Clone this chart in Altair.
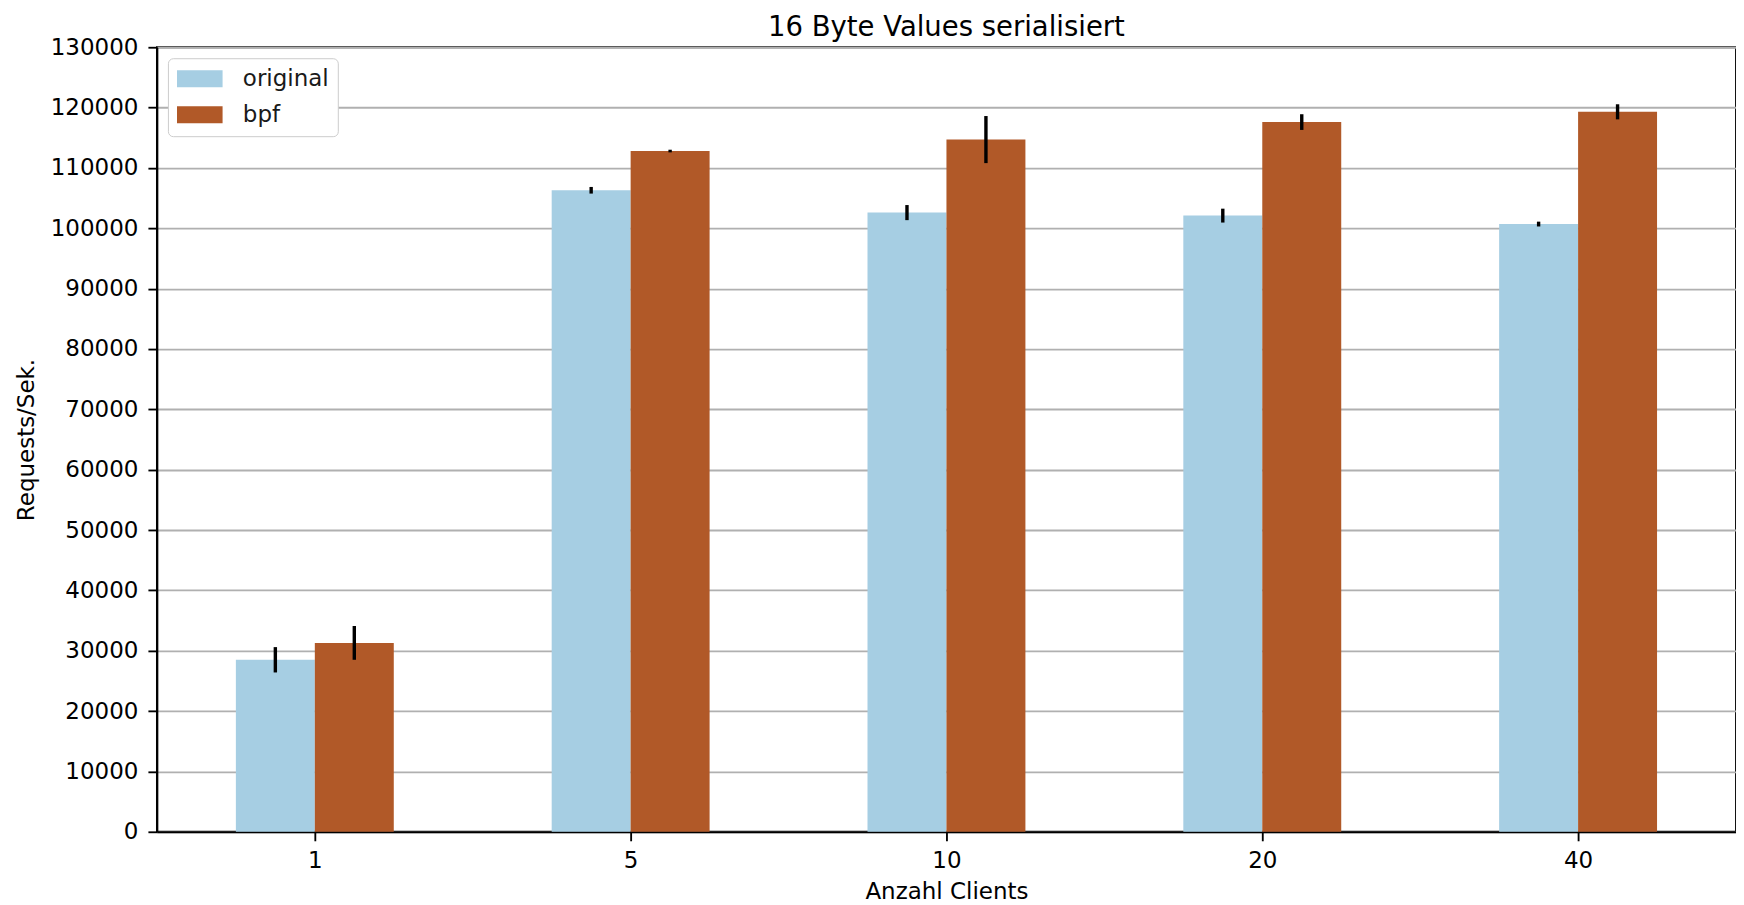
import altair as alt
import pandas as pd

clients = ["1", "5", "10", "20", "40"]
series = ["original", "bpf"]
original = [28500, 106300, 102600, 102100, 100700]
original_err = [2100, 550, 1250, 1150, 400]
bpf = [31300, 112800, 114700, 117600, 119300]
bpf_err = [2800, 220, 3900, 1300, 1250]
colors = ["#a6cee3", "#b15928"]

rows = []
for i, c in enumerate(clients):
    rows.append({"client": c, "idx": i, "series": "original", "order": 0,
                 "value": original[i], "err": original_err[i]})
    rows.append({"client": c, "idx": i, "series": "bpf", "order": 1,
                 "value": bpf[i], "err": bpf_err[i]})
df = pd.DataFrame(rows)

label_expr = "[" + ",".join('"%s"' % c for c in clients) + "][datum.value]"

base = alt.Chart(df).transform_calculate(
    x0="datum.idx - 0.25 + 0.25 * datum.order",
    x1="datum.idx + 0.25 * datum.order",
    xm="datum.idx - 0.125 + 0.25 * datum.order",
    lo="datum.value - datum.err",
    hi="datum.value + datum.err",
)

xscale = alt.Scale(domain=[-0.5, 4.5], nice=False, zero=False, padding=0)
yscale = alt.Scale(domain=[0, 130000], nice=False, padding=0)

bars = base.mark_bar(strokeWidth=0).encode(
    x=alt.X("x0:Q", scale=xscale,
            axis=alt.Axis(values=list(range(len(clients))), labelExpr=label_expr,
                          title="Anzahl Clients", grid=False)),
    x2="x1:Q",
    y=alt.Y("value:Q", scale=yscale,
            axis=alt.Axis(values=list(range(0, 130001, 10000)), format="d",
                          title="Requests/Sek.", grid=True)),
    y2=alt.datum(0),
    color=alt.Color("series:N", scale=alt.Scale(domain=series, range=colors),
                    sort=series,
                    legend=alt.Legend(title=None, orient="none", legendX=11, legendY=11,
                                      symbolType="M-1,-0.75L3,-0.75L3,0.75L-1,0.75Z",
                                      symbolSize=520, symbolStrokeWidth=0,
                                      symbolOpacity=1,
                                      labelFontSize=23, labelFont="DejaVu Sans",
                                      labelColor="#1a1a1a", labelOffset=43,
                                      rowPadding=12, padding=9,
                                      fillColor="white", strokeColor="#cccccc",
                                      cornerRadius=5)),
)

errs = base.mark_rule(color="black", strokeWidth=3.4).encode(
    x="xm:Q",
    y="lo:Q",
    y2="hi:Q",
)

chart = alt.layer(bars, errs).properties(
    width=1580,
    height=785,
    title=alt.TitleParams("16 Byte Values serialisiert", fontSize=27.5,
                          font="DejaVu Sans", fontWeight="normal", color="black",
                          offset=14, dy=19, anchor="middle"),
    autosize=alt.AutoSizeParams(type="none"),
    padding={"left": 149, "top": 39, "right": 0, "bottom": 76},
).configure_view(
    stroke="black", strokeWidth=1.85
).configure_axis(
    labelFont="DejaVu Sans", labelFontSize=23, labelColor="black",
    titleFont="DejaVu Sans", titleFontSize=23, titleFontWeight="normal", titleColor="black",
    domainColor="black", domainWidth=1.85,
    tickColor="black", tickWidth=1.85, tickSize=9,
    gridColor="#b0b0b0", gridWidth=1.85,
).configure_axisY(
    labelPadding=10,
    titlePadding=12,
).configure_axisX(
    labelPadding=9,
    titlePadding=8,
)

chart.save("out.html", embed_options={"renderer": "svg", "actions": False})
